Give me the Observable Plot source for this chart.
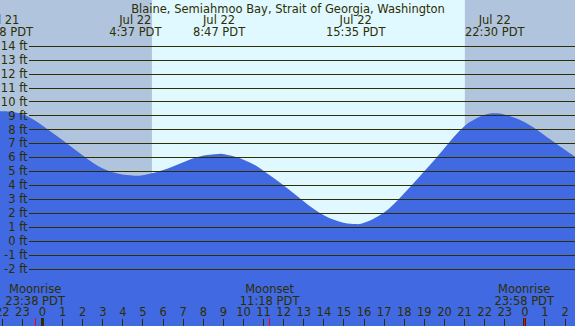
<!DOCTYPE html>
<html>
<head>
<meta charset="utf-8">
<script src="https://cdn.jsdelivr.net/npm/d3@7"></script>
<script src="https://cdn.jsdelivr.net/npm/@observablehq/plot@0.6"></script>
<style>
  html, body { margin: 0; padding: 0; background: #B0C4DE; }
  svg { display: block; }
</style>
</head>
<body>
<div id="chart"></div>
<script>
// ---- data (hours relative to Jul 22 00:00 PDT) ----
const title = "Blaine, Semiahmoo Bay, Strait of Georgia, Washington";
const tideHours = [-2.09, -1.87, -1, 0, 1, 2, 3, 4, 4.62, 5, 6, 7, 8, 8.78, 9, 10, 11, 12, 13, 14, 15, 15.58, 16, 17, 18, 19, 20, 21, 22, 22.5, 23, 24, 25, 26, 26.52];
const tideFeet  = [9.29, 9.3, 9.1, 8.3, 7.25, 6.15, 5.2, 4.75, 4.67, 4.7, 5.06, 5.62, 6.1, 6.23, 6.22, 5.84, 5.05, 4.0, 2.85, 1.84, 1.29, 1.2, 1.27, 2.0, 3.37, 4.95, 6.6, 8.2, 9.02, 9.15, 9.07, 8.52, 7.57, 6.55, 6.03];

const eventHours  = [-1.95, 4.617, 8.783, 15.583, 22.5];
const eventLabels = ["Jul 21\n22:08 PDT", "Jul 22\n4:37 PDT", "Jul 22\n8:47 PDT", "Jul 22\n15:35 PDT", "Jul 22\n22:30 PDT"];

const moonHours  = [-0.367, 11.3, 23.967];
const moonLabels = ["Moonrise\n23:38 PDT", "Moonset\n11:18 PDT", "Moonrise\n23:58 PDT"];

const nightStarts = [-2.09, 21.04];
const nightEnds   = [5.47, 26.52];
const dayStart = 5.47, dayEnd = 21.04;

const feetTicks = [-2, -1, 0, 1, 2, 3, 4, 5, 6, 7, 8, 9, 10, 11, 12, 13, 14];
const hourTicks = d3.range(-2, 27);
const midnights = [0, 24];

const xDomain = [-2.09, 26.52];
const yDomain = [-6.13, 17.29];

// ---- build ----
const tide = tideHours.map((h, i) => ({h, ft: tideFeet[i]}));
const events = eventHours.map((h, i) => ({h, label: eventLabels[i]}));
const moons = moonHours.map((h, i) => ({h, label: moonLabels[i]}));
const nights = nightStarts.map((s, i) => ({x1: s, x2: nightEnds[i]}));

const ink = "#2e2e00";

const chart = Plot.plot({
  width: 575,
  height: 326,
  margin: 0,
  x: {domain: xDomain, axis: null},
  y: {domain: yDomain, axis: null},
  style: {fontFamily: "DejaVu Sans, sans-serif", fontSize: "11.5px", background: "#B0C4DE", overflow: "hidden"},
  marks: [
    Plot.rect(nights, {x1: "x1", x2: "x2", fill: "#B0C4DE"}),
    Plot.rect([{x1: dayStart, x2: dayEnd}], {x1: "x1", x2: "x2", fill: "#E0F8FF"}),
    Plot.areaY(tide, {x: "h", y1: yDomain[0], y2: "ft", curve: "natural", fill: "#4169E1"}),
    Plot.ruleY(feetTicks, {y: d => d, stroke: ink, strokeWidth: 1, insetLeft: 29, shapeRendering: "crispEdges"}),
    Plot.text(feetTicks, {y: d => d, text: d => `${d} ft`, frameAnchor: "left", lineAnchor: "middle", dx: 27, textAnchor: "end", fill: ink}),
    Plot.text([title], {text: d => d, frameAnchor: "top", lineAnchor: "middle", dy: 8.8, fill: ink}),
    Plot.text(events, {x: "h", text: "label", frameAnchor: "top", lineAnchor: "middle", dy: 26, lineHeight: 1, fill: ink}),
    Plot.text(moons, {x: "h", text: "label", frameAnchor: "top", lineAnchor: "middle", dy: 294.3, lineHeight: 1.04, fill: ink}),
    Plot.text(hourTicks, {x: d => d, text: d => String((d + 24) % 24), frameAnchor: "top", lineAnchor: "middle", dy: 312.3, fill: ink}),
    Plot.ruleX(hourTicks, {x: d => d, stroke: ink, insetTop: 319, shapeRendering: "crispEdges"}),
    Plot.ruleX(midnights, {x: d => d, stroke: ink, strokeWidth: 3, insetTop: 318, shapeRendering: "crispEdges"}),
    Plot.ruleX(moonHours, {x: d => d, stroke: "#FF0000", strokeWidth: 1, insetTop: 318, shapeRendering: "crispEdges"})
  ]
});
document.getElementById("chart").appendChild(chart);
</script>
</body>
</html>
